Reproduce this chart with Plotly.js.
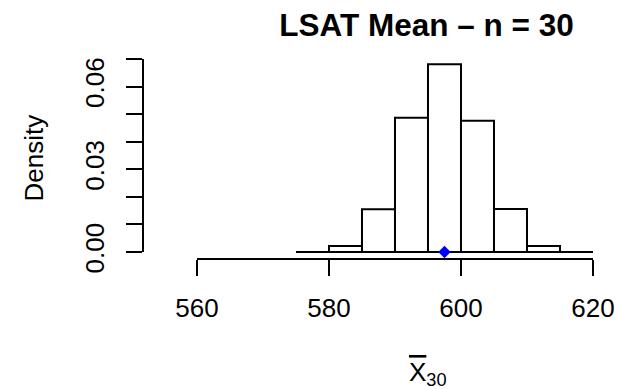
<!DOCTYPE html>
<html>
<head>
<meta charset="utf-8">
<script src="https://cdn.plot.ly/plotly-3.0.1.min.js"></script>
<style>html,body{margin:0;padding:0;background:#fff;}#chart{width:618px;height:389px;}</style>
</head>
<body>
<div id="chart"></div>
<script>
// Histogram of sample means (n = 30), bin edges and densities
const binEdges = [575, 580, 585, 590, 595, 600, 605, 610, 615, 620];
const densities = [0, 0.0022, 0.0155, 0.0487, 0.0681, 0.0476, 0.0156, 0.0022, 0];
const meanPoint = [597.5];
const xTicks = [560, 580, 600, 620];
const xTickLabels = ['560', '580', '600', '620'];
const yTicks = [0, 0.01, 0.02, 0.03, 0.04, 0.05, 0.06, 0.07];
const yTickLabels = ['0.00', '', '', '0.03', '', '', '0.06', ''];

const centers = densities.map((d, i) => (binEdges[i] + binEdges[i + 1]) / 2);
const widths = densities.map((d, i) => binEdges[i + 1] - binEdges[i]);

const FONT = 'Liberation Sans, Arial, Helvetica, sans-serif';
const LW = 2;

const traces = [
  {
    type: 'scatter', mode: 'lines',
    x: [binEdges[0], binEdges[binEdges.length - 1]], y: [0, 0],
    line: {color: 'black', width: LW}, hoverinfo: 'skip', showlegend: false
  },
  {
    type: 'bar', x: centers, y: densities, width: widths,
    marker: {color: 'white', line: {color: 'black', width: LW}},
    showlegend: false
  },
  {
    type: 'scatter', mode: 'markers', x: meanPoint, y: [0],
    marker: {symbol: 'diamond', size: 9.5, color: 'blue', line: {width: 0}},
    showlegend: false
  }
];

const layout = {
  width: 618, height: 389,
  margin: {l: 143, r: 0, t: 57, b: 130, pad: 0},
  paper_bgcolor: 'white', plot_bgcolor: 'white',
  font: {family: FONT, size: 26, color: 'black'},
  showlegend: false,
  bargap: 0,
  title: {
    text: '<b>LSAT Mean \u2013 n = 30</b>',
    font: {family: FONT, size: 31.5, color: 'black'},
    x: 426.5 / 618, xref: 'container', xanchor: 'center',
    y: 1 - 25 / 389, yref: 'container', yanchor: 'middle'
  },
  xaxis: {
    range: [551.82, 623.79], autorange: false,
    showgrid: false, zeroline: false, showline: false,
    tickmode: 'array', tickvals: xTicks, ticktext: xTickLabels,
    ticks: 'outside', ticklen: 16, tickwidth: LW, tickcolor: 'black',
    ticklabelstandoff: 10,
    tickfont: {family: FONT, size: 26, color: 'black'}
  },
  yaxis: {
    range: [-0.00254, 0.07073], autorange: false,
    showgrid: false, zeroline: false, showline: false,
    tickmode: 'array', tickvals: yTicks, ticktext: yTickLabels,
    ticks: 'outside', ticklen: 16, tickwidth: LW, tickcolor: 'black',
    ticklabelstandoff: 12,
    tickangle: -90,
    tickfont: {family: FONT, size: 26, color: 'black'}
  },
  shapes: [
    {type: 'line', xref: 'x', yref: 'paper', x0: xTicks[0], x1: xTicks[xTicks.length - 1], y0: 0, y1: 0,
     line: {color: 'black', width: LW}},
    {type: 'line', xref: 'paper', yref: 'y', x0: 0, x1: 0, y0: yTicks[0], y1: yTicks[yTicks.length - 1],
     line: {color: 'black', width: LW}}
  ],
  annotations: [
    {text: 'Density', textangle: -90, xref: 'paper', yref: 'paper',
     x: (33.5 - 143) / 475, y: 0.5, xanchor: 'center', yanchor: 'middle', showarrow: false,
     font: {family: FONT, size: 26, color: 'black'}},
    {text: '<span style="text-decoration:overline">X</span><sub>30</sub>', xref: 'paper', yref: 'paper',
     x: (427.5 - 143) / 475, y: -(373 - 259) / 202, xanchor: 'center', yanchor: 'middle', showarrow: false,
     font: {family: FONT, size: 26, color: 'black'}}
  ]
};

Plotly.newPlot('chart', traces, layout, {displayModeBar: false, staticPlot: true});
</script>
</body>
</html>
